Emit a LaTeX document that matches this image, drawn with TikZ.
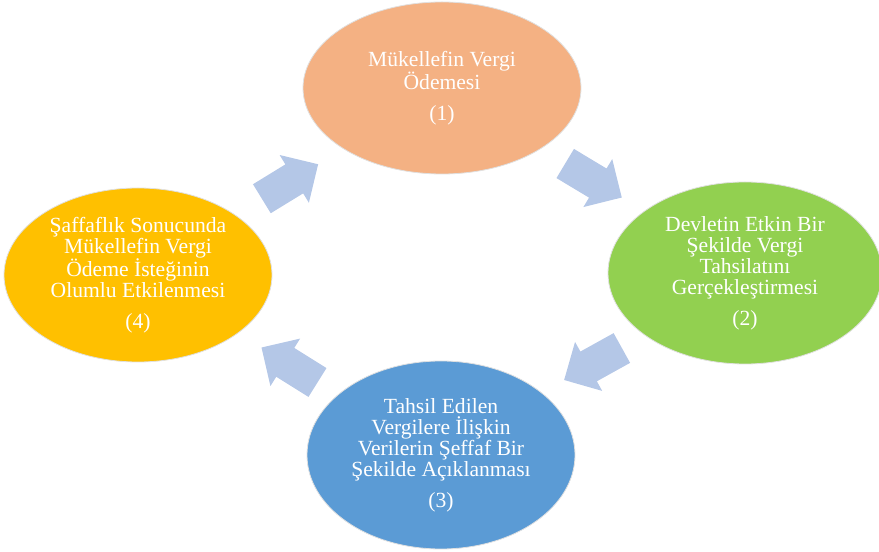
\documentclass[tikz,border=0pt]{standalone}
\usepackage{fontspec}
\setmainfont{Liberation Serif}
\usetikzlibrary{calc,shapes.geometric}
\definecolor{odemeturuncu}{HTML}{F4B183}
\definecolor{tahsilyesil}{HTML}{92D050}
\definecolor{seffafmavi}{HTML}{5B9BD5}
\definecolor{istekgold}{HTML}{FFC000}
\definecolor{okmavi}{HTML}{B4C7E7}
\newcommand{\blokok}[2]{%
  \fill[okmavi, shift={(#1)}, rotate=#2]
    (-33,-17) -- (5,-17) -- (5,-28) -- (33,0) -- (5,28) -- (5,17) -- (-33,17) -- cycle;}

\begin{document}
\begin{tikzpicture}[x=1pt,y=1pt,
    phase/.style={ellipse, draw=black!12, line width=.8pt, inner sep=0pt,
      text=white, align=center, font=\fontsize{21.6}{21}\selectfont}]
  \useasboundingbox (0,0) rectangle (879,552);
  % the four phases of the cycle
  \node[phase, fill=odemeturuncu, minimum width=278pt, minimum height=172pt] (odeme) at (442,464)
    {Mükellefin Vergi\\Ödemesi\\[10pt](1)};
  \node[phase, fill=tahsilyesil, minimum width=274pt, minimum height=182pt] (tahsilat) at (745,279)
    {Devletin Etkin Bir\\Şekilde Vergi\\Tahsilatını\\Gerçekleştirmesi\\[10pt](2)};
  \node[phase, fill=seffafmavi, minimum width=268pt, minimum height=188pt] (seffaflik) at (441,97)
    {Tahsil Edilen\\Vergilere İlişkin\\Verilerin Şeffaf Bir\\Şekilde Açıklanması\\[10pt](3)};
  \node[phase, fill=istekgold, minimum width=268pt, minimum height=174pt] (istek) at (138,277)
    {Şaffaflık Sonucunda\\Mükellefin Vergi\\Ödeme İsteğinin\\Olumlu Etkilenmesi\\[10pt](4)};
  % block arrows half way between the phases
  \coordinate (m1) at ($(odeme)!.5!(tahsilat)$);
  \coordinate (m2) at ($(tahsilat)!.5!(seffaflik)$);
  \coordinate (m3) at ($(seffaflik)!.5!(istek)$);
  \coordinate (m4) at ($(istek)!.5!(odeme)$);
  \blokok{m1}{-31}
  \blokok{m2}{209}
  \blokok{m3}{148}
  \blokok{m4}{31.5}
\end{tikzpicture}
\end{document}
